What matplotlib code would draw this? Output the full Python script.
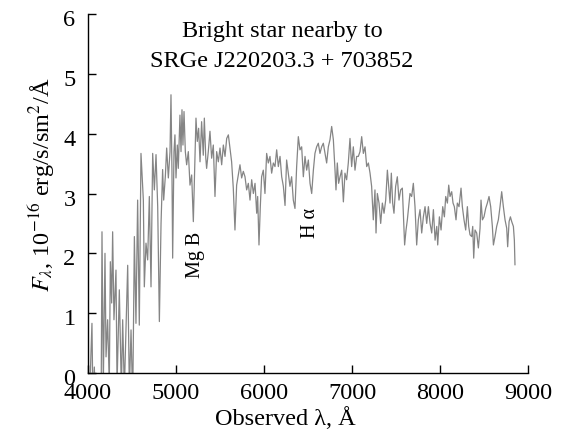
import matplotlib
matplotlib.use("Agg")
import matplotlib.pyplot as plt
from matplotlib.transforms import ScaledTranslation

plt.rcParams['font.family'] = ['Liberation Serif', 'DejaVu Serif']
plt.rcParams['mathtext.fontset'] = 'stix'

# Observed wavelength (Angstrom) and flux (1e-16 erg/s/cm^2/A)
wavelength = [
    4020, 4033, 4045, 4056, 4072, 4085, 4120, 4150, 4159, 4174, 4193, 4205, 4223, 4242,
    4254, 4269, 4280, 4295, 4318, 4330, 4356, 4379, 4394, 4413, 4451, 4470, 4489, 4508,
    4527, 4545, 4564, 4583, 4602, 4629, 4640, 4659, 4678, 4697, 4716, 4735, 4754, 4773,
    4792, 4811, 4830, 4848, 4860, 4879,
    4894, 4913, 4932, 4943, 4954, 4962, 4977, 4988, 5000, 5015, 5026, 5045, 5057, 5068,
    5079, 5091, 5106, 5121, 5140, 5159, 5178, 5197, 5208, 5227, 5242, 5257, 5273, 5291,
    5310, 5322, 5338, 5348, 5367, 5386, 5405, 5424, 5443, 5462, 5481, 5500, 5519, 5538,
    5557, 5576, 5595, 5613, 5632, 5651, 5670, 5689, 5708, 5727, 5746, 5765,
    5784, 5803, 5822, 5841, 5860, 5879, 5898, 5917, 5928, 5943, 5958, 5973, 5992, 6011,
    6030, 6049, 6068, 6087, 6106, 6125, 6144, 6163, 6182, 6201, 6220, 6239, 6257, 6276,
    6295, 6314, 6333, 6352, 6371, 6390, 6409, 6428, 6447, 6466, 6485, 6504, 6523, 6542,
    6561, 6579, 6598, 6617, 6636, 6655, 6674, 6693, 6712, 6731, 6750, 6769,
    6788, 6807, 6818, 6833, 6848, 6864, 6883, 6902, 6920, 6939, 6958, 6977, 6996, 7015,
    7034, 7053, 7072, 7091, 7110, 7129, 7148, 7167, 7186, 7205, 7223, 7242, 7261, 7273,
    7288, 7307, 7326, 7345, 7364, 7383, 7402, 7417, 7432, 7447, 7462, 7477, 7496, 7515,
    7534, 7553, 7572, 7583, 7598, 7614, 7629, 7644, 7659, 7678, 7697, 7716, 7735, 7754,
    7773, 7792, 7811, 7830,
    7849, 7868, 7887, 7906, 7925, 7944, 7963, 7974, 7993, 8012, 8031, 8050, 8065, 8084,
    8099, 8114, 8133, 8148, 8163, 8182, 8197, 8216, 8239, 8254, 8273, 8292, 8311, 8326,
    8341, 8360, 8372, 8383, 8398, 8417, 8436, 8455, 8466, 8482, 8500, 8519, 8538, 8557,
    8576, 8595, 8607, 8625, 8644, 8663, 8682, 8701, 8720, 8739, 8758, 8769, 8785, 8800,
    8815, 8834, 8845, 8852,
]
flux = [
    -0.4, 0.3, 0.83, -0.5, 0.1, -0.6, -0.6, -0.3, 2.36, -0.2, 2.0, 0.27, 0.89, -0.2,
    1.86, 1.17, 2.36, 0.89, 1.72, -0.2, 1.39, -0.3, 0.89, -0.3, 1.8, -0.3, 0.72, -0.5,
    2.28, 0.83, 2.89, 0.80, 3.67, 2.89, 1.44, 2.17, 1.89, 2.95, 1.44, 3.67, 3.06, 3.65,
    2.78, 0.86, 2.50, 3.40, 2.89, 3.29,
    3.76, 3.26, 3.70, 4.65, 3.37, 1.92, 3.70, 3.98, 3.26, 3.81, 3.42, 4.31, 3.70, 4.40,
    3.81, 4.37, 3.70, 3.48, 3.70, 3.14, 3.31, 2.53, 3.14, 4.26, 3.87, 4.09, 3.53, 4.20,
    3.64, 4.26, 3.60, 3.42, 3.70, 4.04, 3.59, 3.81, 2.95, 3.70, 3.53, 3.76, 3.48, 3.81,
    3.62, 3.92, 3.98, 3.76, 3.53, 3.09, 2.39, 3.14, 3.31, 3.48, 3.26, 3.37,
    3.28, 3.06, 3.17, 2.89, 3.23, 3.0, 3.17, 2.67, 2.95, 2.14, 2.78, 3.28, 3.39, 3.0,
    3.67, 3.51, 3.62, 3.34, 3.51, 3.45, 3.73, 3.45, 3.62, 3.28, 3.12, 2.80, 3.56, 3.34,
    3.12, 3.28, 2.89, 2.75, 3.45, 3.95, 3.73, 3.78, 3.28, 3.62, 3.39, 3.56, 3.17, 3.0,
    3.39, 3.67, 3.78, 3.84, 3.67, 3.78, 3.84, 3.67, 3.51, 3.78, 3.90, 4.12,
    3.90, 3.39, 3.06, 3.51, 3.17, 3.28, 3.39, 2.86, 3.34, 3.23, 3.51, 3.92, 3.45, 3.78,
    3.39, 3.62, 3.62, 3.70, 3.95, 3.67, 3.78, 3.45, 3.51, 3.34, 3.12, 2.56, 3.06, 2.34,
    3.0, 2.84, 2.50, 2.84, 2.67, 2.89, 3.39, 3.12, 2.84, 3.34, 2.84, 2.67, 3.12, 3.28,
    2.89, 3.06, 3.09, 2.67, 2.14, 2.39, 2.56, 2.78, 3.0, 2.95, 3.17, 2.78, 2.14, 2.56,
    2.73, 2.34, 2.61, 2.78,
    2.50, 2.78, 2.50, 2.34, 2.73, 2.22, 2.45, 2.14, 2.61, 2.39, 2.78, 2.61, 2.95, 2.84,
    3.14, 2.95, 3.03, 2.84, 2.78, 2.56, 2.84, 2.78, 3.09, 2.78, 2.56, 2.39, 2.78, 2.45,
    2.31, 2.28, 2.45, 1.92, 2.39, 2.34, 2.09, 2.42, 2.89, 2.56, 2.61, 2.75, 2.84, 2.95,
    2.78, 2.45, 2.14, 2.28, 2.45, 2.56, 2.78, 3.03, 2.78, 2.56, 2.42, 2.11, 2.53, 2.61,
    2.53, 2.45, 2.22, 1.81,
]

x_ticks = [4000, 5000, 6000, 7000, 8000, 9000]
y_ticks = [0, 1, 2, 3, 4, 5, 6]
title_lines = ["Bright star nearby to", "SRGe J220203.3 + 703852"]
line_labels = ["Mg B", "H α"]
line_label_pos = [(5216, 1.97), (6534, 2.51)]

fig = plt.figure(figsize=(5.62, 4.37), dpi=100)
ax = fig.add_axes([88/562, 1 - 373/437, 440/562, 359/437])

ax.plot(wavelength, flux, color='#858585', lw=0.9)

ax.set_xlim(4000, 9000)
ax.set_ylim(0, 6)
ax.set_xticks(x_ticks)
ax.set_yticks(y_ticks)
ax.spines['top'].set_visible(False)
ax.spines['right'].set_visible(False)
for s in ('left', 'bottom'):
    ax.spines[s].set_linewidth(1.0)
ax.tick_params(direction='in', length=6, width=1.0, labelsize=17.5)
ax.tick_params(axis='x', pad=7)
ax.tick_params(axis='y', pad=9)
shift = ScaledTranslation(0, -4/100, fig.dpi_scale_trans)
for lab in ax.get_yticklabels():
    lab.set_transform(lab.get_transform() + shift)

ax.text(0.448, -0.128, "Observed λ, Å", transform=ax.transAxes,
        ha='center', va='center', fontsize=17.5)
ax.text(-0.105, 0.524, r"$F_\lambda$, 10$^{-16}$ erg/s/sm$^2$/Å", transform=ax.transAxes,
        ha='center', va='center', rotation=90, fontsize=17.5)

ax.text(6205, 5.62, title_lines[0], ha='center', va='baseline', fontsize=17.5)
ax.text(6205, 5.12, title_lines[1], ha='center', va='baseline', fontsize=17.5)

for lab, (lx, ly) in zip(line_labels, line_label_pos):
    ax.text(lx, ly, lab, rotation=90, ha='center', va='center', fontsize=14.5)

fig.savefig("out.png", dpi=100)
